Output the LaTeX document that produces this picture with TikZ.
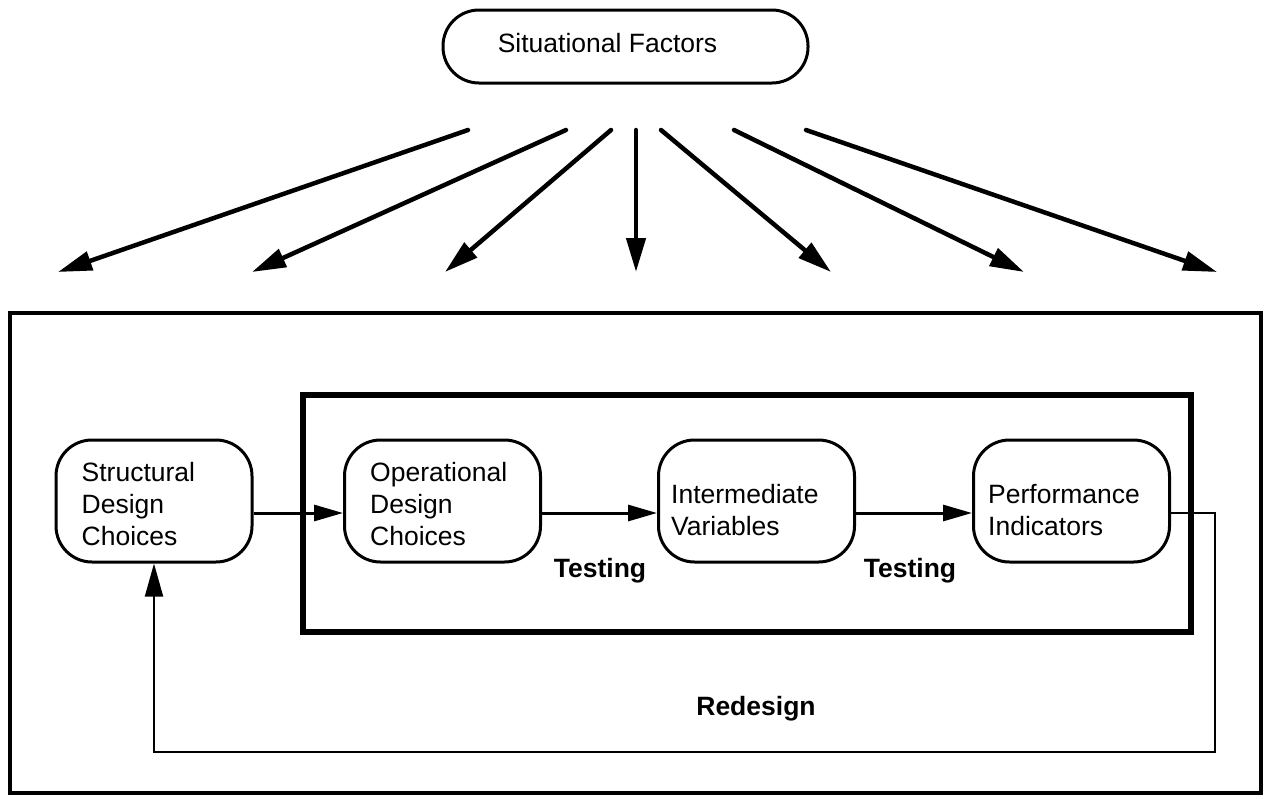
\documentclass[tikz,border=0pt]{standalone}
\usepackage{fontspec}
\setmainfont{Liberation Sans}
\usetikzlibrary{arrows.meta}

\begin{document}
\begin{tikzpicture}[x=1pt,y=-1pt,
  every node/.style={font=\fontsize{26.5}{32}\selectfont},
  rbox/.style={draw, line width=3pt, rounded corners=36pt,
    minimum width=196pt, minimum height=122pt, inner sep=0pt},
  topbox/.style={draw, line width=3pt, rounded corners=36pt,
    minimum width=365pt, minimum height=73pt, inner sep=0pt},
  boxtext/.style={anchor=west, align=left, inner sep=0pt},
  lbl/.style={anchor=base, inner sep=0pt, font=\fontsize{26.5}{32}\selectfont\bfseries},
  fan/.style={line width=4.5pt, line cap=round, -{Triangle[length=34pt,width=19pt]}},
  flow/.style={line width=3pt, -{Triangle[length=29pt,width=16pt]}},
  backloop/.style={line width=2pt, -{Triangle[length=33pt,width=18pt]}},
  frame/.style={line width=4pt},
  innerframe/.style={line width=6pt}]

\useasboundingbox (0,0) rectangle (1265,798);

% source of influence
\node[topbox] (sf) at (625.5,46.5) {};
\node[inner sep=0pt] (sft) at ([xshift=-18pt,yshift=3pt]sf.center) {Situational Factors};

% fan of influence arrows
\coordinate (s1) at (468,130); \coordinate (e1) at (58,272);
\coordinate (s2) at (566,130); \coordinate (e2) at (252,272);
\coordinate (s3) at (611,130); \coordinate (e3) at (445,272);
\coordinate (s4) at (636,130); \coordinate (e4) at (636,272);
\coordinate (s5) at (661,130); \coordinate (e5) at (831,272);
\coordinate (s6) at (734,130); \coordinate (e6) at (1024,272);
\coordinate (s7) at (806,130); \coordinate (e7) at (1217,272);
\foreach \i in {1,...,7} \draw[fan] (s\i) -- (e\i);

% frames
\draw[frame] (10,313) rectangle (1261,793);
\draw[innerframe] (303,395) rectangle (1191,632);

% stages
\node[rbox] (sdc) at (154,501) {};
\node[rbox] (odc) at (442.5,501) {};
\node[rbox] (iv) at (756.5,501) {};
\node[rbox] (pi) at (1071.5,501) {};

\node[boxtext] (sdct) at ([xshift=27pt,yshift=-3.5pt]sdc.west) {Structural\\Design\\Choices};
\node[boxtext] (odct) at ([xshift=27pt,yshift=-3.5pt]odc.west) {Operational\\Design\\Choices};
\node[boxtext] (ivt) at ([xshift=14pt,yshift=-9pt]iv.west) {Intermediate\\Variables};
\node[boxtext] (pit) at ([xshift=16pt,yshift=-9pt]pi.west) {Performance\\Indicators};

% forward flow
\draw[flow] ([yshift=-12pt]sdc.east) -- ([yshift=-12pt]odc.west);
\draw[flow] ([yshift=-12pt]odc.east) -- ([yshift=-12pt]iv.west);
\draw[flow] ([yshift=-12pt]iv.east) -- ([yshift=-12pt]pi.west);

\node[lbl] (t1) at (600,577) {Testing};
\node[lbl] (t2) at (910,577) {Testing};

% redesign feedback loop
\coordinate (rc) at (1215,752);
\draw[backloop] ([yshift=-12pt]pi.east) -| (rc) -| (sdc.south);
\node[lbl] (rd) at (756,715) {Redesign};

\end{tikzpicture}
\end{document}
